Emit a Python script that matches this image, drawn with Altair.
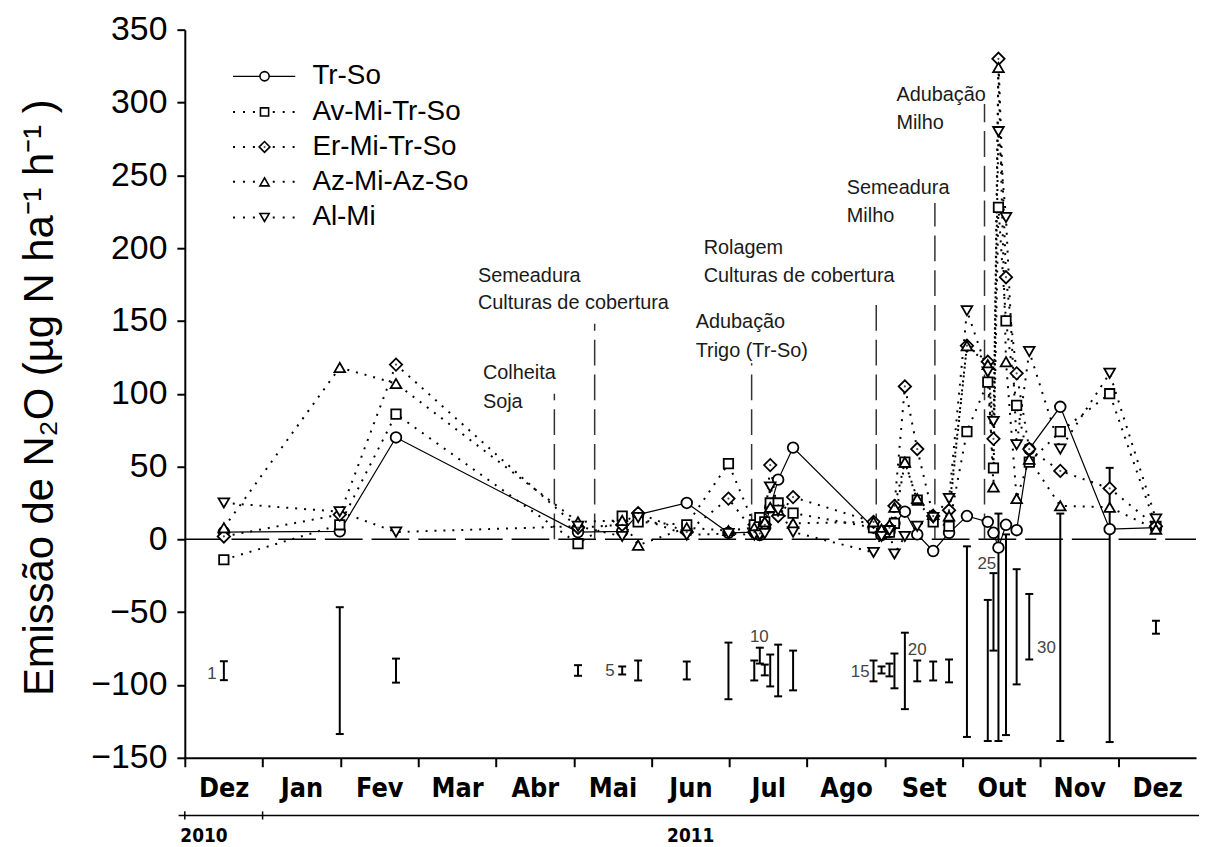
import json
import altair as alt
import pandas as pd

# ---------------- data ----------------
MONTHS = ["Dez", "Jan", "Fev", "Mar", "Abr", "Mai", "Jun", "Jul", "Ago", "Set", "Out", "Nov", "Dez"]
SERIES = ["Tr-So", "Av-Mi-Tr-So", "Er-Mi-Tr-So", "Az-Mi-Az-So", "Al-Mi"]
SHAPES = ["circle", "square", "diamond", "triangle-up", "triangle-down"]

# sampling dates, in months since 1 Dec 2010
EVENT_X = [0.502, 1.992, 2.715, 5.055, 5.623, 5.828, 6.453, 6.989, 7.321, 7.392,
           7.456, 7.526, 7.628, 7.820, 8.854, 8.957, 9.059, 9.123, 9.257, 9.416,
           9.621, 9.825, 10.055, 10.323, 10.396, 10.460, 10.557, 10.694, 10.856,
           11.255, 11.890, 12.485]

TR_SO = [5, 5.5, 70, 5, 5.5, 17, 25, 4.5, 5, 3, 8, 22, 41, 63, 8, 3, 5, 11, 19, 3.4,
         -8, 4.5, 16, 12, 4.5, -5.7, 10, 6.3, 62, 91, 7, 8]
AV_MI = [-14, 10, 86, -3, 16, 12, 10, 52, 10, 15, 12, 25, 25, 18, 8, 4, 5, 11, 53, 27,
         12, 9, 74, 108, 49, 228, 150, 92, 53, 74, 100, 9]
ER_MI = [2, 17, 120, 8, 10, 18, 5, 28, 5, 4, 10, 51, 16, 29, 12, 5, 8, 23, 105, 62,
         16, 20, 133, 122, 69, 330, 180, 114, 62, 47, 35, 9]
AZ_MI = [8, 118, 107, 12, 13, -4, 8, 6, 8, 7, 12, 22, 20, 11, 12, 7, 10, 22, 53, 28,
         17, 16, 133, 120, 36, 324, 122, 28, 55, 23, 22, 7]
AL_MI = [25, 19, 5, 9, 2, 15, 3, 4, 3, 3, 4, 36, 20, 5, -9, 2, 6, -10, 2, 9,
         15, 28, 157, 115, 81, 280, 221, 65, 129, 62, 114, 14]
VALUES = [TR_SO, AV_MI, ER_MI, AZ_MI, AL_MI]

# error bars (drawn below the zero line)
ERR_HI = [-83.7, -46.6, -81.9, -86.4, -87.3, -83.2, -83.9, -70.9, -83.2, -74.4,
          -86.0, -79.1, -72.3, -76.4, -83.2, -87.3, -85.3, -78.4, -64.1, -83.2,
          -83.9, -82.5, -4.8, -41.6, -23.2, 17.7, 3.4, -20.5, -37.5, 17.7, 49.1, -55.9]
ERR_LO = [-96.7, -133.7, -98.4, -93.7, -92.8, -96.9, -96.2, -109.8, -96.9, -85.3,
          -93.4, -101.0, -107.8, -103.7, -97.5, -92.1, -94.1, -102.3, -116.6, -97.5,
          -96.9, -98.2, -135.7, -138.5, -76.4, -138.5, -134.4, -99.6, -82.5, -138.5,
          -139.2, -64.8]
ERR_LABELS = ["1", "5", "10", "15", "20", "25", "30"]
ERR_LABEL_X = [0.349, 5.464, 7.386, 8.682, 9.416, 10.310, 11.077]
ERR_LABEL_Y = [-92.8, -90.7, -66.8, -91.4, -76.2, -17.1, -74.6]

# field operations
ANN_LINE_X = [4.751, 5.269, 7.287, 8.889, 9.643, 10.281]
ANN_LINE_TOP = [100, 148, 121, 164, 231, 299]
ANN_TEXT_X = [3.832, 3.768, 6.568, 6.67, 8.51, 9.148]
ANN_TEXT1 = ["Colheita", "Semeadura", "Adubação", "Rolagem", "Semeadura", "Adubação"]
ANN_TEXT2 = ["Soja", "Culturas de cobertura", "Trigo (Tr-So)", "Culturas de cobertura", "Milho", "Milho"]
ANN_Y1 = [114, 181, 149, 200, 241, 305]
ANN_Y2 = [94, 162, 129, 181, 222, 286]

YEARS = ["2010", "2011"]

# ---------------- layout ----------------
W, H = 1018, 733
HALF = W / 13 / 2
LEG_Y = [318, 293.5, 269.5, 245.5, 221]
LEG_LINE = (0.62, 1.42)
LEG_MARK_X = 1.025
LEG_TEXT_X = 1.64
YEAR_X = [0.246, 6.504]
YEAR_Y = -203.5
BRACKET_Y = -189.6
BRACKET_X = (-0.08, 13.04)
BRACKET_TICKS = [0, 1]

FONT = "Liberation Sans"
NARROW = "Liberation Sans Narrow, DejaVu Sans Condensed, Liberation Sans"

XS = alt.Scale(domain=[0, 13], nice=False, zero=False)
YS = alt.Scale(domain=[-150, 350], nice=False, zero=False)

label_expr = json.dumps(MONTHS) + "[floor(datum.value)]"
XAXIS = alt.Axis(values=[i + 0.5 for i in range(13)], labelExpr=label_expr,
                 tickOffset=-HALF, labelOffset=HALF, title=None, grid=False,
                 labelFont=NARROW, labelFontSize=27, labelFontWeight="bold",
                 labelColor="black", labelPadding=9, labelFlush=False, labelOverlap=False,
                 tickSize=9, tickWidth=2, tickColor="black",
                 domainWidth=2, domainColor="black")
YAXIS = alt.Axis(values=list(range(-150, 351, 50)),
                 title="Emissão de N₂O (µg N ha⁻¹ h⁻¹ )",
                 grid=False, labelFont=FONT, labelFontSize=34, labelColor="black",
                 labelPadding=10, tickSize=8, tickWidth=2, tickColor="black",
                 domainWidth=2, domainColor="black",
                 titleFont=FONT, titleFontSize=42, titleFontWeight="normal",
                 titleColor="black", titleX=-146, titleY=370, titleAlign="center",
                 titleBaseline="middle", titleAngle=270)


def X(f):
    return alt.X(f, type="quantitative", scale=XS, axis=XAXIS)


def Y(f):
    return alt.Y(f, type="quantitative", scale=YS, axis=YAXIS)


# ---------------- tables ----------------
rows = []
for s, vals in zip(SERIES, VALUES):
    for x, v in zip(EVENT_X, vals):
        rows.append({"series": s, "x": x, "y": v})
pts = pd.DataFrame(rows)

err = pd.DataFrame({"x": EVENT_X, "y": ERR_LO, "y2": ERR_HI})
err_lab = pd.DataFrame({"x": ERR_LABEL_X, "y": ERR_LABEL_Y, "t": ERR_LABELS})
ann_lines = pd.DataFrame({"x": ANN_LINE_X, "y": [0] * len(ANN_LINE_X), "y2": ANN_LINE_TOP})
ann_text = pd.DataFrame({"x": ANN_TEXT_X * 2, "y": ANN_Y1 + ANN_Y2, "t": ANN_TEXT1 + ANN_TEXT2})
zero = pd.DataFrame({"x": [0], "x2": [13], "y": [0]})
leg = pd.DataFrame({"series": SERIES, "y": LEG_Y, "x": [LEG_MARK_X] * 5,
                    "xa": [LEG_LINE[0]] * 5, "xb": [LEG_LINE[1]] * 5,
                    "xt": [LEG_TEXT_X] * 5})
years = pd.DataFrame({"x": YEAR_X, "y": [YEAR_Y] * 2, "t": YEARS})
bracket = pd.DataFrame({"x": [BRACKET_X[0]], "x2": [BRACKET_X[1]], "y": [BRACKET_Y]})
bticks = pd.DataFrame({"x": BRACKET_TICKS, "y": [BRACKET_Y + 2.8] * 2, "y2": [BRACKET_Y - 2.8] * 2})

layers = []

# zero line
layers.append(alt.Chart(zero).mark_rule(color="black", strokeWidth=1.5, strokeDash=[38, 9]).encode(
    x=X("x"), x2="x2", y=Y("y")))

# annotation dashed lines
layers.append(alt.Chart(ann_lines).mark_rule(color="#333", strokeWidth=1.5, strokeDash=[26, 9]).encode(
    x=X("x"), y=Y("y"), y2="y2"))
layers.append(alt.Chart(ann_text).mark_text(font=FONT, fontSize=20, align="left", baseline="middle",
                                             color="#1a1a1a").encode(x=X("x"), y=Y("y"), text="t"))

# error bars
layers.append(alt.Chart(err).mark_rule(color="black", strokeWidth=2).encode(x=X("x"), y=Y("y"), y2="y2"))
layers.append(alt.Chart(err).mark_rule(color="black", strokeWidth=2, xOffset=-4, x2Offset=4).encode(
    x=X("x"), x2="x", y=Y("y")))
layers.append(alt.Chart(err).mark_rule(color="black", strokeWidth=2, xOffset=-4, x2Offset=4).encode(
    x=X("x"), x2="x", y=Y("y2")))
layers.append(alt.Chart(err_lab).mark_text(font=FONT, fontSize=17, align="center", baseline="middle",
                                            color="#444").encode(x=X("x"), y=Y("y"), text="t"))

# series lines
layers.append(alt.Chart(pts[pts.series != "Tr-So"]).mark_line(
    color="black", strokeWidth=2, strokeDash=[2, 7]).encode(x=X("x"), y=Y("y"), detail="series", order="x"))
layers.append(alt.Chart(pts[pts.series == "Tr-So"]).mark_line(
    color="black", strokeWidth=1.2).encode(x=X("x"), y=Y("y"), order="x"))

SIZES = {"circle": 115, "square": 90, "diamond": 155, "triangle-up": 115, "triangle-down": 115}
for s, shp in zip(SERIES, SHAPES):
    layers.append(alt.Chart(pts[pts.series == s]).mark_point(
        shape=shp, size=SIZES[shp], filled=True, fill="white", stroke="black", strokeWidth=1.8,
        opacity=1).encode(x=X("x"), y=Y("y")))
layers.append(alt.Chart(pts[pts.series == "Er-Mi-Tr-So"]).mark_point(
    shape="circle", size=5, filled=True, color="black").encode(x=X("x"), y=Y("y")))

# legend
layers.append(alt.Chart(leg[leg.series != "Tr-So"]).mark_rule(color="black", strokeWidth=2, strokeDash=[2, 8]).encode(
    x=X("xa"), x2="xb", y=Y("y")))
layers.append(alt.Chart(leg[leg.series == "Tr-So"]).mark_rule(color="black", strokeWidth=1.3).encode(
    x=X("xa"), x2="xb", y=Y("y")))
for s, shp in zip(SERIES, SHAPES):
    layers.append(alt.Chart(leg[leg.series == s]).mark_point(
        shape=shp, size=SIZES[shp] * 0.75, filled=True, fill="white", stroke="black", strokeWidth=1.6,
        opacity=1).encode(x=X("x"), y=Y("y")))
layers.append(alt.Chart(leg[leg.series == "Er-Mi-Tr-So"]).mark_point(
    shape="circle", size=4, filled=True, color="black").encode(x=X("x"), y=Y("y")))
layers.append(alt.Chart(leg).mark_text(font=FONT, fontSize=28, align="left", baseline="middle",
                                        color="black").encode(x=X("xt"), y=Y("y"), text="series"))

# year bracket below the axis
layers.append(alt.Chart(bracket).mark_rule(color="black", strokeWidth=1.5).encode(x=X("x"), x2="x2", y=Y("y")))
layers.append(alt.Chart(bticks).mark_rule(color="black", strokeWidth=1.5).encode(x=X("x"), y=Y("y"), y2="y2"))
layers.append(alt.Chart(years).mark_text(font=NARROW, fontSize=19, fontWeight="bold", align="center",
                                          baseline="middle", color="black").encode(x=X("x"), y=Y("y"), text="t"))

chart = alt.layer(*layers).properties(
    width=W, height=H, autosize="none",
    padding={"left": 178, "top": 19, "right": 3, "bottom": 87},
    background="white",
).configure_view(stroke=None)

chart.save("out.html", embed_options={"renderer": "svg", "actions": False})
